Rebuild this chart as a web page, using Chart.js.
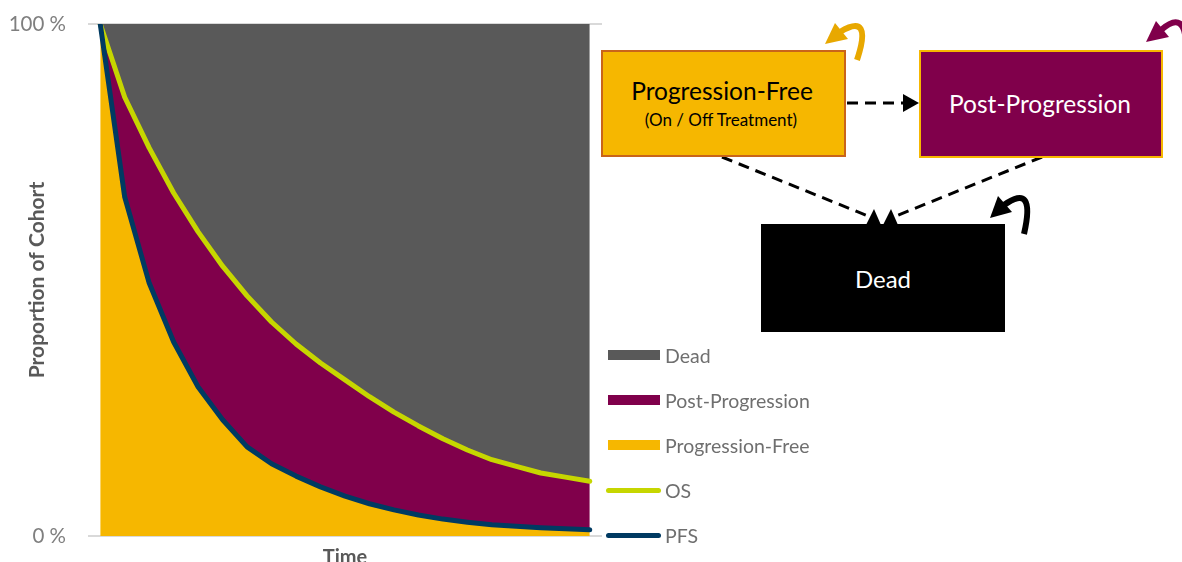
<!DOCTYPE html>
<html>
<head>
<meta charset="utf-8">
<script src="https://cdn.jsdelivr.net/npm/chart.js@4"></script>
<style>
    html, body { margin: 0; padding: 0; background: #fff; overflow: hidden; }
    body { width: 1182px; height: 562px; position: relative; font-family: Lato, "Open Sans", sans-serif; }
    #chart-box { position: absolute; left: 0; top: 0; width: 610px; height: 576px; }
    #diagram { position: absolute; left: 0; top: 0; }
    .legend-item { position: absolute; left: 606px; height: 20px; display: flex; align-items: center; }
    .legend-swatch { width: 52px; height: 10px; margin-left: 2px; margin-right: 5px; }
    .legend-line { width: 55px; height: 5px; border-radius: 3px; margin-right: 4px; }
    .legend-text { font-size: 19.5px; color: #6f6f6f; }
</style>
</head>
<body>
<div id="chart-box"><canvas id="chart-markov"></canvas></div>
<div id="legend"></div>
<svg id="diagram" width="1182" height="562"></svg>

<script>
// 21 equally spaced time points, no tick labels on the x axis
const TIME_POINTS = ["","","","","","","","","","","","","","","","","","","","",""];
// overall survival (% of cohort alive)
const OS_VALUES  = [100, 85.7, 75.8, 67.0, 59.4, 52.7, 46.9, 41.8, 37.5, 33.8, 30.5, 27.2, 24.2, 21.5, 19.0, 16.8, 14.9, 13.6, 12.3, 11.5, 10.7];
// progression-free survival (% of cohort)
const PFS_VALUES = [100, 66.2, 49.4, 37.9, 29.1, 22.7, 17.4, 14.1, 11.7, 9.6, 7.8, 6.3, 5.1, 4.1, 3.3, 2.7, 2.2, 1.9, 1.6, 1.4, 1.2];
const Y_TICKS = [0, 100];

const COLORS = {
    dead: "#595959",
    post: "#80004b",
    free: "#f6b700",
    os:   "#c6d600",
    pfs:  "#003a62"
};

const LEGEND_ITEMS = [
    { label: "Dead",             kind: "box",  color: COLORS.dead, y: 345 },
    { label: "Post-Progression", kind: "box",  color: COLORS.post, y: 390 },
    { label: "Progression-Free", kind: "box",  color: COLORS.free, y: 435 },
    { label: "OS",               kind: "line", color: COLORS.os,   y: 480 },
    { label: "PFS",              kind: "line", color: COLORS.pfs,  y: 525 }
];

function buildChart() {
    var ctx = document.getElementById("chart-markov").getContext("2d");
    new Chart(ctx, {
        type: "line",
        data: {
            labels: TIME_POINTS,
            datasets: [
                { label: "PFS", data: PFS_VALUES, borderColor: COLORS.pfs, borderWidth: 5, pointRadius: 0,
                  borderCapStyle: "round", borderJoinStyle: "round", fill: false, tension: 0, order: 0 },
                { label: "OS", data: OS_VALUES, borderColor: COLORS.os, borderWidth: 5, pointRadius: 0,
                  borderCapStyle: "round", borderJoinStyle: "round", fill: false, tension: 0, order: 1 },
                { label: "Progression-Free", data: PFS_VALUES, borderWidth: 0, pointRadius: 0,
                  backgroundColor: COLORS.free, fill: "origin", tension: 0, order: 4 },
                { label: "Post-Progression", data: OS_VALUES, borderWidth: 0, pointRadius: 0,
                  backgroundColor: COLORS.post, fill: 2, tension: 0, order: 3 },
                { label: "Dead", data: OS_VALUES, borderWidth: 0, pointRadius: 0,
                  backgroundColor: COLORS.dead, fill: "end", tension: 0, order: 2 }
            ]
        },
        options: {
            responsive: true,
            maintainAspectRatio: false,
            animation: false,
            layout: { padding: { top: 24, right: 8, left: 0, bottom: 0 } },
            plugins: { legend: { display: false }, tooltip: { enabled: false } },
            scales: {
                x: {
                    offset: true,
                    grid: { display: false },
                    border: { display: false },
                    ticks: { display: false },
                    title: { display: true, text: "Time", color: "#595959",
                             font: { family: "Lato", size: 20, weight: "bold" }, padding: { top: 0, bottom: 6 } },
                    afterFit: function(scale) { scale.height = 40; }
                },
                y: {
                    min: 0,
                    max: 100,
                    afterBuildTicks: function(scale) { scale.ticks = Y_TICKS.map(function(v) { return { value: v }; }); },
                    grid: { color: "#d9d9d9", lineWidth: 2, drawTicks: false },
                    border: { display: false },
                    ticks: { padding: 22, color: "#7f7f7f", font: { family: "Lato", size: 20.5 },
                             callback: function(v) { return v + " %"; } },
                    title: { display: true, text: "Proportion of Cohort", color: "#595959",
                             font: { family: "Lato", size: 21, weight: "bold" }, padding: { top: 25, bottom: 0 } },
                    afterFit: function(scale) {
                        scale.width = 88;
                        scale.paddingTop = 0;
                        scale.paddingBottom = 0;
                    }
                }
            }
        }
    });
}

function buildLegend() {
    var box = document.getElementById("legend");
    LEGEND_ITEMS.forEach(function(item) {
        var row = document.createElement("div");
        row.className = "legend-item";
        row.style.top = item.y + "px";
        var mark = document.createElement("div");
        mark.className = item.kind === "box" ? "legend-swatch" : "legend-line";
        mark.style.backgroundColor = item.color;
        var txt = document.createElement("span");
        txt.className = "legend-text";
        txt.textContent = item.label;
        row.appendChild(mark);
        row.appendChild(txt);
        box.appendChild(row);
    });
}

function svgEl(tag, attrs, text) {
    var el = document.createElementNS("http://www.w3.org/2000/svg", tag);
    Object.keys(attrs).forEach(function(k) { el.setAttribute(k, attrs[k]); });
    if (text) el.textContent = text;
    return el;
}

function loopArrow(svg, d, head, color) {
    svg.appendChild(svgEl("path", { d: d, fill: "none", stroke: color, "stroke-width": 6, "stroke-linecap": "butt" }));
    svg.appendChild(svgEl("polygon", { points: head, fill: color }));
}

function buildDiagram() {
    var svg = document.getElementById("diagram");
    var font = "Lato, 'Open Sans', sans-serif";

    // dashed transitions
    var dash = { stroke: "#000", "stroke-width": 3, "stroke-dasharray": "11 7", fill: "none" };
    svg.appendChild(svgEl("line", Object.assign({ x1: 847, y1: 103, x2: 903, y2: 103 }, dash)));
    svg.appendChild(svgEl("polygon", { points: "903,94 919,103 903,112", fill: "#000" }));
    svg.appendChild(svgEl("line", Object.assign({ x1: 722, y1: 157, x2: 868, y2: 216 }, dash)));
    svg.appendChild(svgEl("line", Object.assign({ x1: 1042, y1: 157, x2: 896, y2: 216 }, dash)));
    svg.appendChild(svgEl("polygon", { points: "866,225 874,209 881,225", fill: "#000" }));
    svg.appendChild(svgEl("polygon", { points: "883,225 891,209 898,225", fill: "#000" }));

    // state boxes
    svg.appendChild(svgEl("rect", { x: 602, y: 51, width: 243, height: 105, fill: COLORS.free, stroke: "#c9641a", "stroke-width": 2 }));
    svg.appendChild(svgEl("text", { x: 722, y: 100, "text-anchor": "middle", "font-family": font, "font-size": 24.5, fill: "#000" }, "Progression-Free"));
    svg.appendChild(svgEl("text", { x: 721, y: 126, "text-anchor": "middle", "font-family": font, "font-size": 17, fill: "#000" }, "(On / Off Treatment)"));

    svg.appendChild(svgEl("rect", { x: 920, y: 51, width: 242, height: 106, fill: COLORS.post, stroke: "#f6b700", "stroke-width": 2 }));
    svg.appendChild(svgEl("text", { x: 1040, y: 113, "text-anchor": "middle", "font-family": font, "font-size": 24.5, fill: "#fff" }, "Post-Progression"));

    svg.appendChild(svgEl("rect", { x: 761, y: 224, width: 244, height: 108, fill: "#000" }));
    svg.appendChild(svgEl("text", { x: 883, y: 288, "text-anchor": "middle", "font-family": font, "font-size": 24, fill: "#fff" }, "Dead"));

    // self loops
    loopArrow(svg, "M 857 60 Q 873 12 840 32", "825,44 835,23 848,39", "#e8a800");
    loopArrow(svg, "M 1186 48 Q 1186 8 1161 30", "1146,42 1156,21 1169,37", COLORS.post);
    loopArrow(svg, "M 1024 234 Q 1036 182 1004 205", "990,218 998,196 1012,212", "#000");
}

document.addEventListener("DOMContentLoaded", function() {
    buildChart();
    buildLegend();
    buildDiagram();
});
</script>
</body>
</html>
